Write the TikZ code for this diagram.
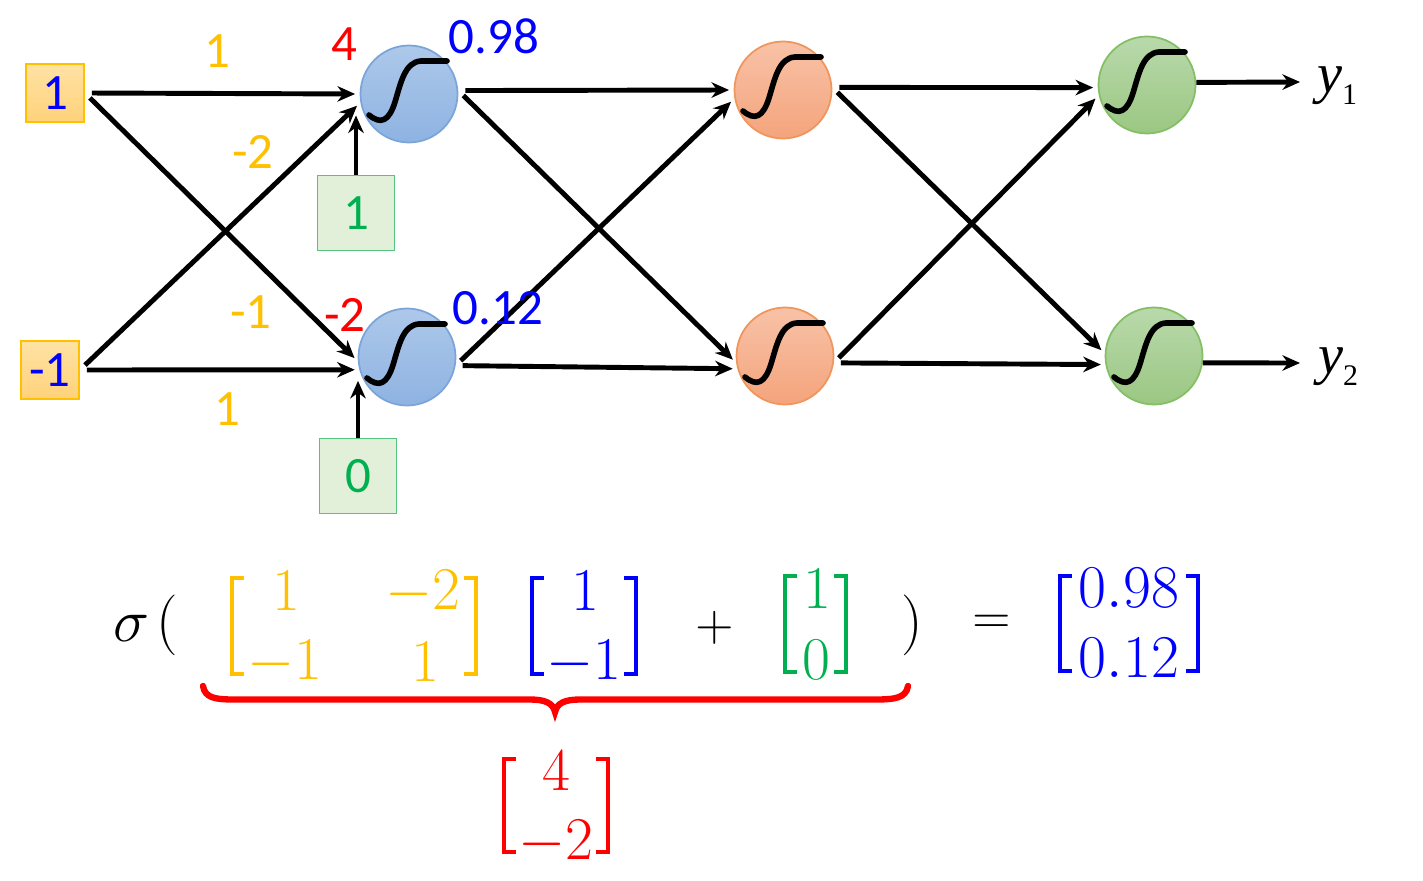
\documentclass[tikz,border=0pt]{standalone}
\usepackage{fontspec}
\usetikzlibrary{arrows.meta}
\newfontfamily\lblfont{Carlito}
\newfontfamily\tnrfont{Liberation Serif}
\definecolor{wgtOr}{HTML}{FFC000}
\definecolor{valBlue}{HTML}{0000FF}
\definecolor{biasGr}{HTML}{00B050}
\definecolor{biasFill}{HTML}{E2F0D9}
\definecolor{biasBd}{HTML}{55C47E}
\definecolor{inTop}{HTML}{FFE2A4}
\definecolor{inBot}{HTML}{FFD27A}
\definecolor{neuBt}{HTML}{ADC8EA}
\definecolor{neuBb}{HTML}{8EB3E2}
\definecolor{neuBd}{HTML}{7BA5DA}
\definecolor{neuOt}{HTML}{F8C2A7}
\definecolor{neuOb}{HTML}{F4A47C}
\definecolor{neuOd}{HTML}{F0965C}
\definecolor{neuGt}{HTML}{B9D9AB}
\definecolor{neuGb}{HTML}{9BC782}
\definecolor{neuGd}{HTML}{84BF66}

\begin{document}
\begin{tikzpicture}[x=0.1mm, y=-0.1mm,
		>={Stealth[length=5pt,width=4.4pt]}, line width=1.4pt,
		neuron/.style={circle, minimum size=9.7mm, inner sep=0pt,
			line width=0.5pt},
		neuB/.style={neuron, draw=neuBd, top color=neuBt, bottom color=neuBb},
		neuO/.style={neuron, draw=neuOd, top color=neuOt, bottom color=neuOb},
		neuG/.style={neuron, draw=neuGd, top color=neuGt, bottom color=neuGb},
		inbox/.style={rectangle, minimum size=5.8mm, inner sep=0pt,
			line width=0.5pt, draw=wgtOr, top color=inTop, bottom color=inBot,
			text=valBlue, font=\lblfont\fontsize{14.5}{17}\selectfont},
		biasbox/.style={rectangle, minimum width=7.7mm, minimum height=7.5mm,
			inner sep=0pt, line width=0.5pt, draw=biasBd, fill=biasFill,
			text=biasGr, font=\lblfont\fontsize{14.5}{17}\selectfont},
		wlab/.style={inner sep=0pt, text=wgtOr,
			font=\lblfont\fontsize{14.5}{17}\selectfont},
		zlab/.style={wlab, text=red},
		alab/.style={wlab, text=valBlue},
		ylab/.style={inner sep=0pt, font=\tnrfont\itshape\fontsize{16}{19}\selectfont},
		link/.style={->, shorten <=2pt, shorten >=1.3pt},
		sig/.style={line width=1.6pt, line cap=round, line join=round},
		mtx/.style={inner sep=0pt, font=\fontsize{17}{20}\selectfont},
		brack/.style={line width=1.3pt, line join=miter},
		graffa/.style={red, line width=1.8pt, line cap=round}]
	
	\useasboundingbox (0,0) rectangle (1423,880);
	
	%% curva sigmoide dentro un neurone
	\def\curvaS#1{\draw[sig, shift={(#1)}] (-40,21) .. controls (-28,31) and (-20,27) .. (-14,8)
		.. controls (-8,-12) and (-4,-32) .. (12,-33) -- (38,-33);}
	%% parentesi quadre: x sinistra, x destra, y alto, y basso, colore
	\def\brk#1#2#3#4#5{%
		\draw[brack, #5] (#1+12,#3) -- (#1,#3) -- (#1,#4) -- (#1+12,#4);
		\draw[brack, #5] (#2-12,#3) -- (#2,#3) -- (#2,#4) -- (#2-12,#4);}
	
	%% ingressi e bias
	\node[inbox] (in1) at (55,93) {1};
	\node[inbox] (in2) at (50,370) {-1};
	\node[biasbox] (bs1) at (356,213) {1};
	\node[biasbox] (bs2) at (358,476) {0};
	
	%% neuroni
	\node[neuB] (l1a) at (409,94) {};
	\node[neuB] (l1b) at (407,357) {};
	\node[neuO] (l2a) at (783,90) {};
	\node[neuO] (l2b) at (785,356) {};
	\node[neuG] (l3a) at (1147,85) {};
	\node[neuG] (l3b) at (1154,356) {};
	\curvaS{l1a} \curvaS{l1b}
	\curvaS{l2a} \curvaS{l2b}
	\curvaS{l3a} \curvaS{l3b}
	
	%% strato 1
	\draw[link] (in1.east) -- (l1a.west);
	\draw[link] (in1.east) -- (l1b.185);
	\draw[link] (in2.east) -- (l1a.190);
	\draw[link] (in2.east) -- (l1b.195);
	\draw[link, shorten <=0pt] (bs1.north) -- (bs1.north |- l1a.200);
	\draw[link, shorten <=0pt] (bs2.north) -- (bs2.north |- l1b.203);
	
	%% strato 2
	\draw[link] (l1a.4) -- (l2a.180);
	\draw[link] (l1a.4) -- (l2b.188);
	\draw[link] (l1b.350) -- (l2b.195);
	\draw[link] (l1b.350) -- (l2a.190);
	
	%% strato 3
	\draw[link] (l2a.3) -- (l3a.183);
	\draw[link] (l2a.3) -- (l3b.177);
	\draw[link] (l2b.352) -- (l3b.190);
	\draw[link] (l2b.352) -- (l3a.192);
	
	%% uscite
	\coordinate (out1) at (1300,82);
	\coordinate (out2) at (1300,363);
	\draw[link, shorten <=0pt, shorten >=0pt] (l3a.3) -- (out1);
	\draw[link, shorten <=0pt, shorten >=0pt] (l3b.352) -- (out2);
	\node[ylab] (y1) at (1337,86) {y\raisebox{-3.4pt}{\upshape\fontsize{8.5}{10}\selectfont 1}};
	\node[ylab] (y2) at (1338,367) {y\raisebox{-3.4pt}{\upshape\fontsize{8.5}{10}\selectfont 2}};
	
	%% pesi, somme, attivazioni
	\node[wlab] (w11) at (217,51) {1};
	\node[wlab] (w21) at (253,152) {-2};
	\node[wlab] (w12) at (251,312) {-1};
	\node[wlab] (w22) at (227,409) {1};
	\node[zlab] (zs1) at (344,44) {4};
	\node[zlab] (zs2) at (345,315) {-2};
	\node[alab] (as1) at (494,36) {0.98};
	\node[alab] (as2) at (498,308) {0.12};
	
	%% equazione
	\node[mtx] (sgm) at (131,628) {$\sigma$};
	\node[mtx] (lp) at (167,625) {$($};
	\node[mtx, text=wgtOr] (m11) at (286,591) {$1$};
	\node[mtx, text=wgtOr] (m12) at (423,592) {$-2$};
	\node[mtx, text=wgtOr] (m21) at (285,662) {$-1$};
	\node[mtx, text=wgtOr] (m22) at (425,662) {$1$};
	\node[mtx, text=valBlue] (xv1) at (585,591) {$1$};
	\node[mtx, text=valBlue] (xv2) at (584,662) {$-1$};
	\node[mtx, font=\fontsize{14}{17}\selectfont] (pl) at (715,628) {$+$};
	\node[mtx, text=biasGr] (bv1) at (817,589) {$1$};
	\node[mtx, text=biasGr] (bv2) at (816,660) {$0$};
	\node[mtx] (rp) at (912,625) {$)$};
	\node[mtx, font=\fontsize{14}{17}\selectfont] (eq) at (992,624) {$=$};
	\node[mtx, text=valBlue] (r1) at (1129,588) {$0.98$};
	\node[mtx, text=valBlue] (r2) at (1129,658) {$0.12$};
	\node[mtx, text=red] (z1) at (556,771) {$4$};
	\node[mtx, text=red] (z2) at (556,842) {$-2$};
	
	\brk{232}{476}{578}{674}{wgtOr}
	\brk{532}{636}{578}{674}{valBlue}
	\brk{785}{846}{576}{672}{biasGr}
	\brk{1060}{1198}{576}{671}{valBlue}
	\brk{504}{608}{759}{852}{red}
	
	%% graffa sotto
	\draw[graffa] (203,686) .. controls (205,698) and (215,699.5) .. (235,699.5) -- (530,699.5)
		.. controls (545,699.5) and (553,703) .. (555,712)
		.. controls (557,703) and (565,699.5) .. (580,699.5) -- (875,699.5)
		.. controls (895,699.5) and (906,698) .. (908,686);
	
\end{tikzpicture}
\end{document}
